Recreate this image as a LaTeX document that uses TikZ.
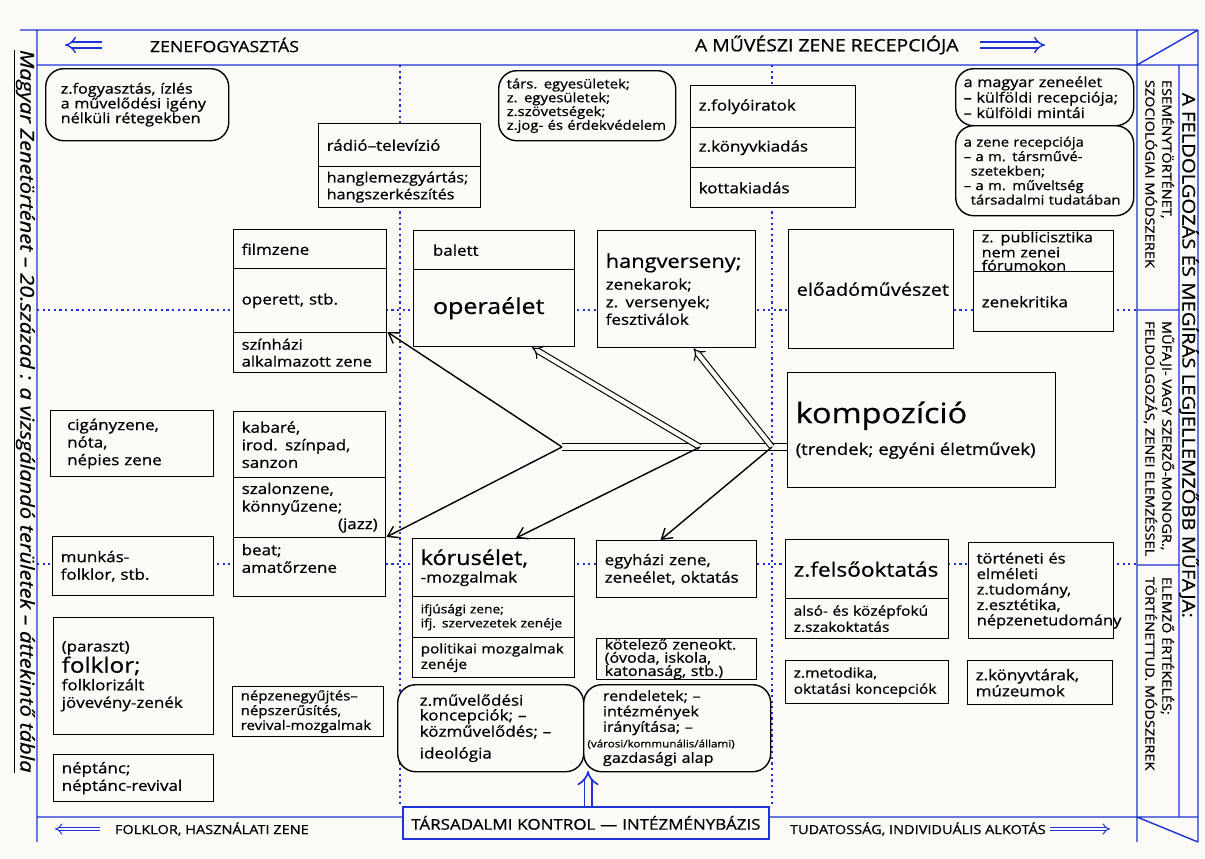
\documentclass[tikz,border=0pt]{standalone}
\usepackage{fontspec}
\setmainfont{Open Sans}[FakeStretch=1.15, FakeBold=0.7]
\usetikzlibrary{arrows.meta}
\definecolor{inkblue}{RGB}{30,50,215}
\definecolor{paper}{RGB}{252,251,247}

\begin{document}
\begin{tikzpicture}[x=0.025cm, y=-0.025cm,
    cell/.style 2 args={draw, line width=1pt, fill=paper, anchor=north west,
      minimum width=#1*0.025cm, minimum height=#2*0.025cm,
      /utils/exec={\pgfmathsetlengthmacro\cellw{(#1-16)*0.025cm}},
      text width=\cellw, align=left, inner xsep=0pt, inner ysep=0pt,
      font=\fontsize{10.5}{12.5}\selectfont},
    bubble/.style 2 args={cell={#1}{#2}, rounded corners=0.45cm},
    txs/.style={font=\fontsize{10.5}{11.5}\selectfont},
    txt/.style={font=\fontsize{9.2}{9.8}\selectfont},
    txl/.style={font=\fontsize{10.5}{12}\selectfont},
    caps/.style={rotate=-90, align=left, font=\fontsize{9}{12}\selectfont},
    frame/.style={draw=inkblue, line width=1pt},
    grid/.style={draw=inkblue, line width=1.2pt, dash pattern=on 1.6pt off 2.4pt},
    fish/.style={-{Straight Barb[length=7pt, width=9pt]}, line width=1pt},
    hollow/.style={double=paper, double distance=3pt, line width=0.8pt, -{Implies}},
    bandarr/.style={draw=inkblue, double=paper, double distance=3pt, line width=1pt, -{Implies}},
    bluearr/.style={draw=inkblue, double=paper, double distance=4pt, line width=1.2pt, -{Implies}}]

  \fill[paper] (0,0) rectangle (1205,858);
  \useasboundingbox (0,0) rectangle (1205,858);

  \draw[grid] (400,65) -- (400,806) (772,65) -- (772,806)
    (37,310) -- (1137,310) (37,564) -- (1137,564);
  \draw[frame] (20,30) -- (1198,30) (37,65) -- (1198,65) (37,817) -- (1198,817)
    (37,30) -- (37,842) (1137,30) -- (1137,842) (1179,65) -- (1179,817)
    (1198,30) -- (1198,842) (1137,65) -- (1198,30) (1137,817) -- (1198,842)
    (1137,310) -- (1179,310) (1137,565) -- (1179,565);

  \path
    (145,45) node[anchor=west, font=\fontsize{11}{13}\selectfont] (zf) {ZENEFOGYASZTÁS}
    (690,45) node[anchor=west, font=\fontsize{12}{14}\selectfont] (mzr) {A MŰVÉSZI ZENE RECEPCIÓJA}
    (110,829) node[anchor=west, font=\fontsize{9}{11}\selectfont] (fhz) {FOLKLOR, HASZNÁLATI ZENE}
    (785,829) node[anchor=west, font=\fontsize{9}{11}\selectfont] (tia) {TUDATOSSÁG, INDIVIDUÁLIS ALKOTÁS};
  \coordinate (zfa) at (65,45);
  \coordinate (zfb) at (102,45);
  \coordinate (mza) at (980,45);
  \coordinate (mzb) at (1045,45);
  \coordinate (fha) at (55,829);
  \coordinate (fhb) at (100,829);
  \coordinate (tza) at (1050,829);
  \coordinate (tzb) at (1110,829);
  \draw[bandarr] (zfb) -- (zfa);
  \draw[bandarr] (mza) -- (mzb);
  \draw[bandarr, double distance=2pt, line width=0.7pt] (fhb) -- (fha);
  \draw[bandarr, double distance=2pt, line width=0.7pt] (tza) -- (tzb);

  \path
    (24,45) node[rotate=-90, anchor=west, font=\itshape\fontsize{13.5}{15}\selectfont] (title)
      {\underline{Magyar Zenetörténet – 20.század : a vizsgálandó területek – áttekintő tábla}}
    (1189,88) node[rotate=-90, anchor=west, font=\fontsize{12.5}{14}\selectfont] (mufaj)
      {A FELDOLGOZÁS ÉS MEGÍRÁS LEGJELLEMZŐBB MŰFAJA:}
    (1179,75) node[caps, anchor=north west] (esem) {ESEMÉNYTÖRTÉNET,\\SZOCIOLÓGIAI MÓDSZEREK}
    (1179,316) node[caps, anchor=north west] (monogr) {MŰFAJI- VAGY SZERZŐ-MONOGR.,\\FELDOLGOZÁS, ZENEI ELEMZÉSSEL}
    (1179,572) node[caps, anchor=north west] (elemzo) {ELEMZŐ ÉRTÉKELÉS;\\TÖRTÉNETTUD. MÓDSZEREK};

  \path
    (45,68) node[bubble={183}{72}, font=\fontsize{10}{10.5}\selectfont] (fogy) {\hspace*{5pt}z.fogyasztás, ízlés\\\hspace*{5pt}a művelődési igény\\\hspace*{5pt}nélküli rétegekben}
    (498,70) node[bubble={177}{70}, txt] (tars) {társ. egyesületek;\\z. egyesületek;\\z.szövetségek;\\z.jog- és érdekvédelem}
    (955,68) node[bubble={178}{57}, font=\fontsize{10}{11}\selectfont] (kulf) {a magyar zeneélet\\– külföldi recepciója;\\– külföldi mintái}
    (955,125) node[bubble={178}{90}, font=\fontsize{9.2}{10.3}\selectfont] (recep) {a zene recepciója\\– a m. társművé-\\\hspace*{5pt}szetekben;\\– a m. műveltség\\\hspace*{5pt}társadalmi tudatában}
    (318,123) node[cell={162}{43}] (radio) {rádió–televízió}
    (318,166) node[cell={162}{41}, font=\fontsize{10}{12}\selectfont] (hangl) {hanglemezgyártás;\\hangszerkészítés}
    (690,85) node[cell={165}{42}, txl] (folyo) {z.folyóiratok}
    (690,127) node[cell={165}{40}, txl] (konyv) {z.könyvkiadás}
    (690,167) node[cell={165}{40}, txl] (kotta) {kottakiadás};

  \path
    (233,229) node[cell={153}{39}] (film) {filmzene}
    (233,268) node[cell={153}{64}] (operett) {operett, stb.}
    (233,332) node[cell={153}{40}, font=\fontsize{10.2}{12}\selectfont] (szinh) {színházi\\alkalmazott zene}
    (413,230) node[cell={161}{39}] (balett) {\hspace*{8pt}balett}
    (413,269) node[cell={161}{77}, font=\fontsize{15.5}{18}\selectfont] (opera) {\hspace*{8pt}operaélet}
    (597,230) node[cell={158}{117}] (hangv) {{\fontsize{13.5}{16}\selectfont hangverseny;}\\[3pt]zenekarok;\\z. versenyek;\\fesztiválok}
    (788,229) node[cell={165}{119}, font=\fontsize{12.3}{15}\selectfont] (eloado) {előadóművészet}
    (973,230) node[cell={140}{41}, font=\fontsize{10}{9.4}\selectfont] (publ) {z. publicisztika\\nem zenei\\fórumokon}
    (973,271) node[cell={140}{60}] (kritika) {zenekritika}
    (787,372) node[cell={268}{115}] (kompo) {{\fontsize{20}{24}\selectfont kompozíció}\\[8pt]{\fontsize{11.5}{14}\selectfont (trendek; egyéni életművek)}};

  \path
    (50,410) node[cell={163}{66}] (cig) {\hspace*{6pt}cigányzene,\\\hspace*{6pt}nóta,\\\hspace*{6pt}népies zene}
    (233,411) node[cell={152}{66}] (kabare) {kabaré,\\irod. színpad,\\sanzon}
    (233,477) node[cell={152}{60}] (szalon) {szalonzene,\\könnyűzene;\\\hspace*{\fill}(jazz)}
    (233,537) node[cell={152}{59}] (beat) {beat;\\amatőrzene\\~}
    (52,536) node[cell={161}{59}] (munkas) {munkás-\\folklor, stb.}
    (53,617) node[cell={160}{117}] (paraszt) {(paraszt)\\{\fontsize{15}{17}\selectfont folklor;}\\folklorizált\\jövevény-zenék}
    (53,754) node[cell={160}{47}] (neptanc) {néptánc;\\néptánc-revival}
    (232,686) node[cell={151}{50}, font=\fontsize{9.3}{10.5}\selectfont] (nepzene) {népzenegyűjtés–\\népszerűsítés,\\revival-mozgalmak};

  \path
    (412,538) node[cell={162}{58}] (korus) {{\fontsize{14.5}{17}\selectfont kórusélet,}\\-mozgalmak}
    (412,596) node[cell={162}{41}, font=\fontsize{8.5}{10}\selectfont] (ifj) {ifjúsági zene;\\ifj. szervezetek zenéje}
    (412,637) node[cell={162}{40}, font=\fontsize{9.5}{11}\selectfont] (polit) {politikai mozgalmak\\zenéje}
    (596,540) node[cell={160}{57}] (egyhaz) {egyházi zene,\\zeneélet, oktatás}
    (596,638) node[cell={160}{40}, font=\fontsize{10}{9.4}\selectfont] (kotel) {kötelező zeneokt.\\(óvoda, iskola,\\katonaság, stb.)}
    (397,684) node[bubble={186}{87}, font=\fontsize{10.5}{10.5}\selectfont] (muv) {\hspace*{10pt}z.művelődési\\\hspace*{10pt}koncepciók; –\\\hspace*{10pt}közművelődés; –\\[5pt]\hspace*{10pt}ideológia}
    (583,684) node[bubble={187}{87}, font=\fontsize{10}{11}\selectfont] (rend) {\hspace*{8pt}rendeletek; –\\\hspace*{8pt}intézmények\\\hspace*{8pt}irányítása; –\\{\fontsize{7.2}{11}\selectfont\hspace*{-3pt}(városi/kommunális/állami)}\\\hspace*{8pt}gazdasági alap}
    (785,539) node[cell={163}{59}, font=\fontsize{14}{16}\selectfont] (felso) {z.felsőoktatás}
    (785,598) node[cell={163}{40}, font=\fontsize{9.6}{11.5}\selectfont] (szakokt) {alsó- és középfokú\\z.szakoktatás}
    (968,542) node[cell={145}{96}, font=\fontsize{10.2}{11}\selectfont] (tort) {történeti és\\elméleti\\z.tudomány,\\z.esztétika,\\népzenetudomány}
    (785,660) node[cell={163}{43}, font=\fontsize{9.6}{11.5}\selectfont] (metod) {z.metodika,\\oktatási koncepciók}
    (967,660) node[cell={145}{44}, txs] (konyvt) {z.könyvtárak,\\múzeumok}
    (402,806) node[cell={366}{32}, draw=inkblue, line width=1.2pt, align=center, font=\fontsize{10.5}{13}\selectfont] (tarsad) {TÁRSADALMI KONTROL — INTÉZMÉNYBÁZIS};

  \coordinate (junc) at (588,771);
  \draw[bluearr] (tarsad.north -| junc) -- (junc);

  \coordinate (spL) at (562,447);
  \coordinate (spM) at (700,447);
  \coordinate (spR) at (772,447);
  \draw[double=paper, double distance=4pt, line width=0.9pt] (spL) -- (kompo.west |- spL);
  \draw[fish] (spL) -- (szinh.north east);
  \draw[fish] (spL) -- (beat.north east);
  \draw[hollow] (spM) -- (opera.-46);
  \draw[hollow] (spR) -- (hangv.-74);
  \draw[fish] (spM) -- (korus.53);
  \draw[fish] (spR) -- (egyhaz.119);
\end{tikzpicture}
\end{document}
